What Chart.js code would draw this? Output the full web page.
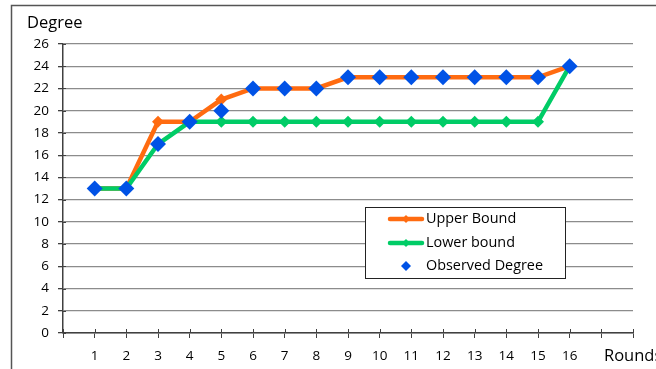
<!DOCTYPE html>
<html>
<head>
<meta charset="utf-8">
<script src="https://cdn.jsdelivr.net/npm/chart.js@4.4.1/dist/chart.umd.min.js"></script>
<style>
  html, body { margin: 0; padding: 0; background: #fff; }
  #wrap { width: 656px; height: 369px; }
</style>
</head>
<body>
<div id="wrap"><canvas id="rounds-chart-js"></canvas></div>
<script>
let rounds = [1, 2, 3, 4, 5, 6, 7, 8, 9, 10, 11, 12, 13, 14, 15, 16];
let upperBound = [13, 13, 19, 19, 21, 22, 22, 22, 23, 23, 23, 23, 23, 23, 23, 24];
let lowerBound = [13, 13, 17, 19, 19, 19, 19, 19, 19, 19, 19, 19, 19, 19, 19, 24];
let observed = [13, 13, 17, 19, 20, 22, 22, 22, 23, 23, 23, 23, 23, 23, 23, 24];
let yTicks = [0, 2, 4, 6, 8, 10, 12, 14, 16, 18, 20, 22, 24, 26];

const FONT = "'Open Sans', 'Noto Sans', sans-serif";
const points = (vals) => rounds.map((r, i) => ({ x: r, y: vals[i] }));

// frame, axis titles, crossing tick marks and the boxed legend
const extras = {
  id: 'extras',
  beforeDraw(chart) {
    const c = chart.ctx;
    c.save();
    c.strokeStyle = '#555';
    c.lineWidth = 1.5;
    c.strokeRect(11.5, 5.5, 700, 400);
    c.restore();
  },
  afterDatasetsDraw(chart) {
    const c = chart.ctx;
    const x = chart.scales.x, y = chart.scales.y;
    c.save();
    c.strokeStyle = '#404040';
    c.lineWidth = 1;
    // inner half of the x tick marks
    for (let v = 0; v <= 18; v++) {
      const px = Math.round(x.getPixelForValue(v)) + 0.5;
      c.beginPath();
      c.moveTo(px, y.bottom - 4);
      c.lineTo(px, y.bottom);
      c.stroke();
    }
    // inner half of the y tick marks
    yTicks.forEach(v => {
      const py = Math.round(y.getPixelForValue(v)) + 0.5;
      c.beginPath();
      c.moveTo(x.left, py);
      c.lineTo(x.left + 3, py);
      c.stroke();
    });

    c.fillStyle = '#000';
    c.font = '16.5px ' + FONT;
    c.textBaseline = 'middle';
    c.textAlign = 'left';
    c.fillText('Degree', 27, 23);
    c.fillText('Rounds', 604, 356);

    // legend box
    const bx = 365, by = 207, bw = 200, bh = 71;
    c.fillStyle = '#fff';
    c.fillRect(bx, by, bw, bh);
    c.strokeStyle = '#222';
    c.strokeRect(bx + 0.5, by + 0.5, bw, bh);
    c.font = '14.4px ' + FONT;
    const rows = [219, 243, 266];
    chart.data.datasets.forEach((ds, i) => {
      const ry = rows[i];
      if (ds.showLine !== false) {
        c.strokeStyle = ds.borderColor;
        c.lineWidth = 4.5;
        c.lineCap = 'round';
        c.beginPath();
        c.moveTo(390, ry);
        c.lineTo(422, ry);
        c.stroke();
      }
      const r = ds.showLine !== false ? 4 : 5;
      c.fillStyle = ds.pointBackgroundColor;
      c.beginPath();
      c.moveTo(406, ry - r);
      c.lineTo(406 + r, ry);
      c.lineTo(406, ry + r);
      c.lineTo(406 - r, ry);
      c.closePath();
      c.fill();
      c.fillStyle = '#000';
      c.fillText(ds.label, 426, ry);
    });
    c.restore();
  }
};

let chartInfo = new Chart(document.getElementById('rounds-chart-js').getContext('2d'), {
  type: 'line',
  data: {
    datasets: [{
      label: 'Upper Bound',
      data: points(upperBound),
      borderColor: 'rgb(255, 107, 16)',
      pointBackgroundColor: 'rgb(255, 107, 16)',
      pointBorderColor: 'rgb(255, 107, 16)',
      borderWidth: 4.5,
      pointStyle: 'rectRot',
      pointRadius: 6,
      pointBorderWidth: 0,
      tension: 0,
      order: 2
    }, {
      label: 'Lower bound',
      data: points(lowerBound),
      borderColor: 'rgb(0, 204, 102)',
      pointBackgroundColor: 'rgb(0, 204, 102)',
      pointBorderColor: 'rgb(0, 204, 102)',
      borderWidth: 4.5,
      pointStyle: 'rectRot',
      pointRadius: 6,
      pointBorderWidth: 0,
      tension: 0,
      order: 1
    }, {
      label: 'Observed Degree',
      data: points(observed),
      showLine: false,
      borderColor: 'rgb(0, 82, 230)',
      pointBackgroundColor: 'rgb(0, 82, 230)',
      pointBorderColor: 'rgb(0, 82, 230)',
      pointStyle: 'rectRot',
      pointRadius: 8,
      pointBorderWidth: 0,
      order: 0
    }]
  },
  options: {
    responsive: true,
    maintainAspectRatio: false,
    animation: false,
    layout: { padding: { left: 0, right: 23, top: 44, bottom: 0 } },
    plugins: {
      legend: { display: false },
      tooltip: { enabled: false }
    },
    interaction: { mode: null },
    scales: {
      x: {
        type: 'linear',
        min: 0,
        max: 18,
        afterFit: (s) => { s.height = 36; },
        afterBuildTicks: (s) => { s.ticks = Array.from({ length: 19 }, (_, v) => ({ value: v })); },
        ticks: {
          autoSkip: false,
          maxRotation: 0,
          padding: 10,
          color: '#000',
          font: { family: FONT, size: 13.5 },
          callback: (v) => rounds.includes(v) ? String(v) : ''
        },
        grid: { drawOnChartArea: false, drawTicks: true, tickLength: 5, color: '#404040' },
        border: { color: '#404040', width: 1.5 }
      },
      y: {
        min: 0,
        max: 26,
        afterFit: (s) => { s.width = 63; },
        afterBuildTicks: (s) => { s.ticks = yTicks.map(v => ({ value: v })); },
        ticks: {
          padding: 9,
          color: '#000',
          font: { family: FONT, size: 13.5 }
        },
        grid: { color: '#8c8c8c', lineWidth: 1.3, tickLength: 5, tickColor: '#404040' },
        border: { color: '#404040', width: 1.5 }
      }
    }
  },
  plugins: [extras]
});
</script>
</body>
</html>
